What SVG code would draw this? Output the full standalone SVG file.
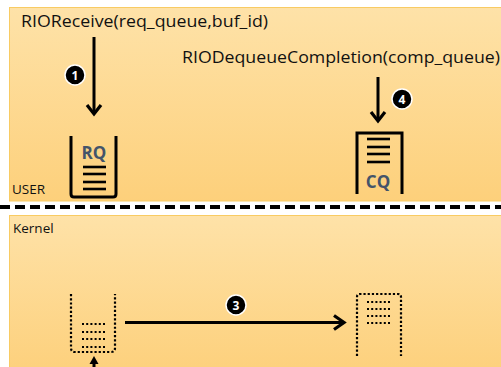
<svg xmlns="http://www.w3.org/2000/svg" width="501" height="367" viewBox="0 0 501 367">
  <defs>
    <linearGradient id="panelGrad" x1="0" y1="0" x2="0" y2="1">
      <stop offset="0" stop-color="#FEE2A8"/>
      <stop offset="1" stop-color="#FDD07B"/>
    </linearGradient>
    <style>
      .panel { fill: url(#panelGrad); stroke: #F8CB63; stroke-width: 1; }
      .txt { font-family: "Open Sans", "Noto Sans", "Liberation Sans", sans-serif; fill: #111; }
      .lbl { font-size: 17px; }
      .zone { font-size: 13.5px; }
      .qname { font-family: "Open Sans", "Noto Sans", "Liberation Sans", sans-serif; font-size: 17px; font-weight: bold; fill: #44546A; text-anchor: middle; }
      .solid { fill: none; stroke: #000; stroke-width: 3; }
      .bar { stroke: #000; stroke-width: 2.6; }
      .dotted { fill: none; stroke: #000; stroke-width: 2.2; stroke-dasharray: 2.2 2; }
      .dotgrid { stroke: #000; stroke-width: 2; stroke-dasharray: 2 2.2; }
      .conn { fill: none; stroke: #000; stroke-width: 3; }
      .head { fill: none; stroke: #000; stroke-width: 3.2; stroke-linejoin: miter; stroke-linecap: butt; }
      .badge circle { fill: #000; stroke: #fff; stroke-width: 1.5; }
      .badge text { font-family: "Open Sans", "Noto Sans", "Liberation Sans", sans-serif; font-size: 12px; font-weight: bold; fill: #fff; text-anchor: middle; }
    </style>
  </defs>

  <rect width="501" height="367" fill="#fff"/>

  <!-- panels -->
  <g id="user-zone">
    <rect class="panel" x="9.5" y="7.5" width="495" height="193.5"/>
    <text class="txt zone" x="12" y="194">USER</text>
  </g>
  <g id="kernel-zone">
    <rect class="panel" x="9.5" y="215.5" width="495" height="160"/>
    <text class="txt zone" x="13" y="233">Kernel</text>
  </g>
  <line x1="0" y1="207" x2="501" y2="207" stroke="#000" stroke-width="4" stroke-dasharray="10 5"/>

  <!-- labels -->
  <g id="label-receive">
    <text class="txt lbl" x="21" y="27" textLength="247" lengthAdjust="spacingAndGlyphs">RIOReceive(req_queue,buf_id)</text>
  </g>
  <g id="label-dequeue">
    <text class="txt lbl" x="182" y="63" textLength="318" lengthAdjust="spacingAndGlyphs">RIODequeueCompletion(comp_queue)</text>
  </g>

  <!-- user RQ -->
  <g id="rq">
    <path class="solid" d="M71,136 V194 Q71,197 74,197 H113 Q116,197 116,194 V136"/>
    <text class="qname" x="94" y="159">RQ</text>
    <line class="bar" x1="83" y1="167" x2="106" y2="167"/>
    <line class="bar" x1="83" y1="174" x2="106" y2="174"/>
    <line class="bar" x1="83" y1="182" x2="106" y2="182"/>
    <line class="bar" x1="83" y1="189" x2="106" y2="189"/>
  </g>

  <!-- user CQ -->
  <g id="cq">
    <path class="solid" d="M357,194 V133 H402 V194"/>
    <line class="bar" x1="367" y1="139" x2="390" y2="139"/>
    <line class="bar" x1="367" y1="147" x2="390" y2="147"/>
    <line class="bar" x1="367" y1="154" x2="390" y2="154"/>
    <line class="bar" x1="367" y1="162" x2="390" y2="162"/>
    <text class="qname" x="378" y="188">CQ</text>
  </g>

  <!-- kernel RQ -->
  <g id="kernel-rq">
    <path class="dotted" d="M71,294 V348 Q71,352 75,352 H111 Q115,352 115,348 V294"/>
    <line class="dotgrid" x1="82" y1="324" x2="106" y2="324"/>
    <line class="dotgrid" x1="82" y1="332" x2="106" y2="332"/>
    <line class="dotgrid" x1="82" y1="339" x2="106" y2="339"/>
    <line class="dotgrid" x1="82" y1="347" x2="106" y2="347"/>
  </g>

  <!-- kernel CQ -->
  <g id="kernel-cq">
    <path class="dotted" d="M357,356 V297 Q357,294 360,294 H398 Q401,294 401,297 V356"/>
    <line class="dotgrid" x1="367" y1="302" x2="390" y2="302"/>
    <line class="dotgrid" x1="367" y1="309" x2="390" y2="309"/>
    <line class="dotgrid" x1="367" y1="316" x2="390" y2="316"/>
    <line class="dotgrid" x1="367" y1="323" x2="390" y2="323"/>
  </g>

  <!-- connectors -->
  <g id="connectors">
    <line class="conn" x1="94" y1="37" x2="94" y2="113"/>
    <polyline class="head" points="87,105 94,114 101,105"/>

    <line class="conn" x1="378" y1="77" x2="378" y2="120"/>
    <polyline class="head" points="371,112 378,121 385,112"/>

    <line class="conn" x1="125" y1="322.5" x2="343" y2="322.5"/>
    <polyline class="head" points="334,315.5 344,322.5 334,329.5"/>

    <line class="conn" x1="94" y1="362" x2="94" y2="367"/>
    <polygon points="94,356 89.5,364 98.5,364" fill="#000"/>
  </g>

  <!-- badges -->
  <g id="badge-1" class="badge">
    <circle cx="75" cy="75" r="10"/>
    <text x="75" y="79.5">1</text>
  </g>
  <g id="badge-4" class="badge">
    <circle cx="402" cy="99" r="10"/>
    <text x="402" y="103.5">4</text>
  </g>
  <g id="badge-3" class="badge">
    <circle cx="236" cy="305" r="10"/>
    <text x="236" y="309.5">3</text>
  </g>
</svg>
